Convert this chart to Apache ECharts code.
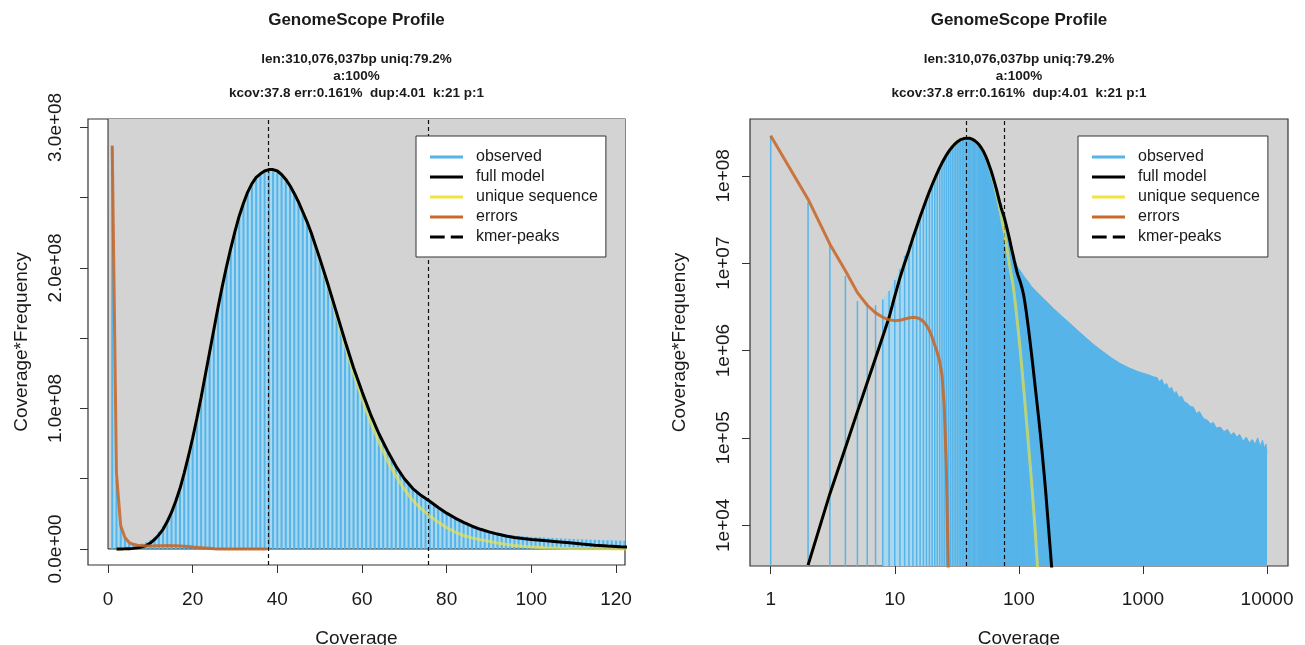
<!DOCTYPE html>
<html>
<head>
<meta charset="utf-8">
<title>GenomeScope Profile</title>
<script src="https://cdn.jsdelivr.net/npm/echarts@6/dist/echarts.min.js"></script>
<style>
  html, body { margin: 0; padding: 0; background: #fff; }
  #chart { width: 1305px; height: 645px; }
</style>
</head>
<body>
<div id="chart"></div>
<script>
// ---- data ----
const titleText = 'GenomeScope Profile'
const subtitleLines = ['len:310,076,037bp uniq:79.2%', 'a:100%', 'kcov:37.8 err:0.161%  dup:4.01  k:21 p:1']
const kmerPeaks = [37.8, 75.6]

// observed coverage*frequency, coverage 1..122
const observed = [
  2.87e8, 4.95e7, 1.58e7, 7.2e6, 3.7e6, 3.5e6, 3.3e6, 3.85e6, 4.8e6, 6.4e6,
  8.6e6, 1.22e7, 1.62e7, 2.15e7, 2.8e7, 3.6e7, 4.5e7, 5.6e7, 6.8e7, 8.1e7,
  9.5e7, 1.09e8, 1.25e8, 1.41e8, 1.56e8, 1.72e8, 1.87e8, 2.01e8, 2.14e8, 2.26e8,
  2.36e8, 2.45e8, 2.53e8, 2.59e8, 2.64e8, 2.67e8, 2.68e8, 2.69e8, 2.69e8, 2.68e8,
  2.65e8, 2.62e8, 2.575e8, 2.52e8, 2.46e8, 2.40e8, 2.33e8, 2.25e8, 2.16e8, 2.07e8,
  1.98e8, 1.88e8, 1.78e8, 1.68e8, 1.58e8, 1.48e8, 1.38e8, 1.29e8, 1.20e8, 1.12e8,
  1.04e8, 9.6e7, 8.9e7, 8.2e7, 7.6e7, 7.0e7, 6.45e7, 5.9e7, 5.45e7, 5.0e7,
  4.6e7, 4.3e7, 4.0e7, 3.75e7, 3.5e7, 3.3e7, 3.08e7, 2.88e7, 2.7e7, 2.52e7,
  2.36e7, 2.2e7, 2.06e7, 1.92e7, 1.8e7, 1.68e7, 1.57e7, 1.47e7, 1.38e7, 1.3e7,
  1.23e7, 1.16e7, 1.1e7, 1.05e7, 1.0e7, 9.6e6, 9.3e6, 9.0e6, 8.8e6, 8.6e6,
  8.4e6, 8.3e6, 8.1e6, 7.9e6, 7.8e6, 7.6e6, 7.5e6, 7.3e6, 7.2e6, 7.1e6,
  6.9e6, 6.8e6, 6.7e6, 6.6e6, 6.5e6, 6.4e6, 6.3e6, 6.2e6, 6.1e6, 6.0e6,
  5.9e6, 5.8e6
]

// high-coverage tail of the histogram (only visible on the log plot)
const tailCov = [125, 135, 148, 165, 190, 220, 259, 300, 353, 410, 481, 560, 656, 760, 895, 1000, 1100, 1217, 1300, 1350,
  1420, 1480, 1550, 1620, 1700, 1780, 1850, 1950, 2050, 2150, 2263, 2400, 2550, 2700, 2850, 3083, 3300, 3500, 3700, 3900,
  4200, 4500, 4800, 5100, 5400, 5727, 6000, 6400, 6800, 7200, 7600, 8000, 8400, 8800, 9200, 9500, 9800, 10000]
const tailObs = [5.5e6, 4.9e6, 4.3e6, 3.7e6, 3.03e6, 2.5e6, 2.04e6, 1.68e6, 1.37e6, 1.14e6, 9.6e5, 8.2e5, 7.1e5, 6.4e5, 5.8e5, 5.5e5, 5.3e5, 5.0e5, 4.9e5, 4.4e5,
  4.7e5, 4.0e5, 4.2e5, 3.6e5, 3.8e5, 3.2e5, 3.4e5, 2.9e5, 3.0e5, 2.6e5, 2.5e5, 2.3e5, 2.25e5, 1.9e5, 2.0e5, 1.66e5, 1.6e5, 1.45e5, 1.5e5, 1.3e5,
  1.33e5, 1.18e5, 1.25e5, 1.08e5, 1.15e5, 1.02e5, 1.1e5, 9.2e4, 1.02e5, 8.8e4, 9.6e4, 8.4e4, 1.0e5, 8.0e4, 9.4e4, 7.6e4, 8.5e4, 6.6e4]

// model curves
const curveCov = [2, 3, 4, 5, 6, 7, 8, 9, 10, 11, 12, 13, 14, 15, 16, 17, 18, 19, 20, 21, 22, 23, 24, 25, 26, 27, 28, 29, 30,
  31, 32, 33, 34, 35, 36, 37, 38, 39, 40, 41, 42, 43, 44, 45, 46, 47, 48, 49, 50,
  52, 54, 56, 58, 60, 62, 64, 66, 68, 70, 72, 74, 76, 78, 80, 82, 84, 86, 88, 90, 92, 94, 96, 98, 100,
  103, 106, 109, 112, 115, 118, 121, 125, 130, 135, 140, 145, 150, 155, 160, 165, 170, 175, 180, 185]
const fullModel = [3.5e3, 2.3e4, 7.7e4, 2.0e5, 4.3e5, 8.2e5, 1.45e6, 2.4e6, 4.2e6,
  6.8e6, 1.0e7, 1.4e7, 1.95e7, 2.6e7, 3.4e7, 4.3e7, 5.4e7, 6.6e7, 7.9e7,
  9.3e7, 1.08e8, 1.24e8, 1.40e8, 1.56e8, 1.72e8, 1.87e8, 2.01e8, 2.14e8, 2.26e8,
  2.37e8, 2.46e8, 2.54e8, 2.60e8, 2.645e8, 2.67e8, 2.69e8, 2.70e8, 2.70e8, 2.69e8,
  2.665e8, 2.63e8, 2.585e8, 2.53e8, 2.47e8, 2.40e8, 2.33e8, 2.25e8, 2.16e8, 2.07e8,
  1.88e8, 1.68e8, 1.48e8, 1.29e8, 1.12e8, 9.6e7, 8.2e7, 7.0e7, 5.9e7, 5.0e7,
  4.3e7, 3.8e7, 3.4e7, 2.95e7, 2.55e7, 2.2e7, 1.9e7, 1.62e7, 1.4e7, 1.22e7,
  1.06e7, 9.3e6, 8.2e6, 7.4e6, 6.8e6,
  6.0e6, 5.2e6, 4.4e6, 3.5e6, 2.7e6, 2.05e6, 1.55e6,
  1.05e6, 6.5e5, 4.0e5, 2.5e5, 1.6e5, 1.0e5, 6.2e4, 3.8e4, 2.3e4, 1.35e4, 8.0e3, 4.8e3, 2.9e3]
const uniqueSeq = [3.5e3, 2.3e4, 7.7e4, 2.0e5, 4.3e5, 8.2e5, 1.45e6, 2.4e6, 4.2e6,
  6.8e6, 1.0e7, 1.4e7, 1.95e7, 2.6e7, 3.4e7, 4.3e7, 5.4e7, 6.6e7, 7.9e7,
  9.3e7, 1.08e8, 1.24e8, 1.40e8, 1.56e8, 1.72e8, 1.87e8, 2.01e8, 2.14e8, 2.26e8,
  2.37e8, 2.46e8, 2.54e8, 2.60e8, 2.645e8, 2.67e8, 2.69e8, 2.70e8, 2.70e8, 2.69e8,
  2.665e8, 2.63e8, 2.585e8, 2.53e8, 2.47e8, 2.40e8, 2.33e8, 2.25e8, 2.155e8, 2.06e8,
  1.87e8, 1.66e8, 1.45e8, 1.25e8, 1.07e8, 9.05e7, 7.6e7, 6.3e7, 5.2e7, 4.25e7,
  3.45e7, 2.85e7, 2.35e7, 1.9e7, 1.52e7, 1.2e7, 9.6e6, 7.9e6, 6.6e6, 5.5e6,
  4.3e6, 3.3e6, 2.5e6, 1.9e6, 1.45e6,
  9.4e5, 6.1e5, 3.9e5, 2.5e5, 1.6e5, 1.05e5, 6.8e4,
  3.9e4, 1.9e4, 9.3e3, 4.1e3, 2.0e3, 9.0e2, 4.0e2, 1.8e2, 80, 35, 15, 7, 3]

const errCov = [1, 2, 3, 4, 5, 6, 7, 8, 9, 10, 11, 12, 13, 14, 15, 16, 17, 18, 19, 20, 21, 22, 23, 24, 25, 26, 27, 28, 30, 33, 36, 37.5]
const errVal = [2.87e8, 5.4e7, 1.65e7, 8.2e6, 4.6e6, 3.3e6, 2.7e6, 2.4e6, 2.25e6, 2.2e6,
  2.22e6, 2.3e6, 2.36e6, 2.4e6, 2.38e6, 2.3e6, 2.15e6, 1.95e6, 1.7e6, 1.42e6,
  1.15e6, 9.5e5, 7.5e5, 5.3e5, 2.4e5, 5.0e4, 3.0e3, 6.0e2, 1.0e2, 20, 5, 2]

// tick positions and labels
const linXTicks = [0, 20, 40, 60, 80, 100, 120]
const linYTicks = [0, 0.5e8, 1e8, 1.5e8, 2e8, 2.5e8, 3e8]
const linYLabelVals = [0, 1e8, 2e8, 3e8]
const linYLabels = ['0.0e+00', '1.0e+08', '2.0e+08', '3.0e+08']
const logXTicks = [1, 10, 100, 1000, 10000]
const logXLabels = ['1', '10', '100', '1000', '10000']
const logYTicks = [1e4, 1e5, 1e6, 1e7, 1e8]
const logYLabels = ['1e+04', '1e+05', '1e+06', '1e+07', '1e+08']

const legendNames = ['observed', 'full model', 'unique sequence', 'errors', 'kmer-peaks']

// ---- styling ----
const FONT = "'Liberation Sans', Arial, Helvetica, sans-serif"
const TXT = '#1a1a1a'
const BLUE = '#56B4E9'
const LIGHT_BLUE = '#a8d8ef'
const BG_GREY = '#d3d3d3'
const ERR_COLOR = 'rgba(200, 100, 35, 0.85)'
const UNIQUE_COLOR = 'rgba(240, 228, 66, 0.65)'

const pairs = (xs, ys) => xs.map((x, i) => [x, ys[i]])
const obsPairs = observed.map((v, i) => [i + 1, v])
const tailPairs = [obsPairs[obsPairs.length - 1]].concat(pairs(tailCov, tailObs))
const modelPairs = pairs(curveCov, fullModel)
const uniquePairs = pairs(curveCov, uniqueSeq)
const errPairs = pairs(errCov, errVal)
// R draws rect(0, 0, max(x)*1.1, max(y)*1.1) as plot background
const bgData = [[0, 0, Math.max(...tailCov) * 1.1, Math.max(...observed) * 1.1]]

const labelFrom = (vals, labels) => v => {
  const i = vals.findIndex(t => Math.abs(t - v) <= Math.abs(t) * 1e-6)
  return i >= 0 ? labels[i] : ''
}

const axisText = { fontFamily: FONT, fontSize: 19, color: TXT }

function bgRect(params, api, fill, stroke) {
  const p0 = api.coord([api.value(0), api.value(1)])
  const p1 = api.coord([api.value(2), api.value(3)])
  return {
    type: 'rect',
    shape: { x: p0[0], y: p1[1], width: p1[0] - p0[0], height: p0[1] - p1[1] },
    style: { fill: fill, stroke: stroke, lineWidth: stroke === 'none' ? 0 : 1 }
  }
}

function barsLinear(params, api) {
  const top = api.coord([api.value(0), api.value(1)])
  const base = api.coord([api.value(0), 0])
  return { type: 'line', shape: { x1: top[0], y1: base[1], x2: top[0], y2: top[1] }, style: { stroke: BLUE, lineWidth: 2 } }
}

function barsLog(params, api) {
  const top = api.coord([api.value(0), api.value(1)])
  const cs = params.coordSys
  return { type: 'line', shape: { x1: top[0], y1: cs.y + cs.height, x2: top[0], y2: top[1] }, style: { stroke: BLUE, lineWidth: 1.5 } }
}

function curves(axisIdx) {
  return [
    {
      name: 'unique sequence', type: 'line', xAxisIndex: axisIdx, yAxisIndex: axisIdx, data: uniquePairs,
      symbol: 'none', lineStyle: { color: UNIQUE_COLOR, width: 3 }, itemStyle: { color: UNIQUE_COLOR }, z: 5, silent: true
    },
    {
      name: 'full model', type: 'line', xAxisIndex: axisIdx, yAxisIndex: axisIdx, data: modelPairs,
      symbol: 'none', lineStyle: { color: '#000', width: 3 }, itemStyle: { color: '#000' }, z: 6, silent: true
    },
    {
      name: 'errors', type: 'line', xAxisIndex: axisIdx, yAxisIndex: axisIdx, data: errPairs,
      symbol: 'none', lineStyle: { color: ERR_COLOR, width: 3 }, itemStyle: { color: ERR_COLOR }, z: 7, silent: true
    },
    {
      name: 'kmer-peaks', type: 'line', xAxisIndex: axisIdx, yAxisIndex: axisIdx, data: [], z: 8, silent: true,
      itemStyle: { color: '#000' },
      markLine: {
        silent: true, symbol: ['none', 'none'], label: { show: false }, animation: false,
        lineStyle: { color: '#111', type: [4, 3], width: 1.2 },
        emphasis: { disabled: true },
        data: kmerPeaks.map(p => ({ xAxis: p }))
      }
    }
  ]
}

function legendAt(left) {
  return {
    left: left, top: 136, orient: 'vertical', z: 20,
    padding: [11, 8, 10, 14], itemGap: 0, itemWidth: 33, itemHeight: 3,
    backgroundColor: '#fff', borderColor: '#333', borderWidth: 1, borderRadius: 0,
    selectedMode: false, symbolKeepAspect: false,
    textStyle: { fontFamily: FONT, fontSize: 16, color: TXT, lineHeight: 20, padding: [0, 0, 0, 8] },
    data: [
      { name: legendNames[0], icon: 'rect', itemStyle: { color: BLUE, borderWidth: 0 } },
      { name: legendNames[1], icon: 'rect', itemStyle: { color: '#000', borderWidth: 0 } },
      { name: legendNames[2], icon: 'rect', itemStyle: { color: '#F0E442', borderWidth: 0 } },
      { name: legendNames[3], icon: 'rect', itemStyle: { color: '#C8692A', borderWidth: 0 } },
      { name: legendNames[4], icon: 'path://M0,0H12V3H0Z M17,0H27V3H17Z', itemStyle: { color: '#000', borderWidth: 0 } }
    ]
  }
}

function titleAt(left) {
  return {
    text: titleText, subtext: subtitleLines.join('\n'),
    left: left, top: 12, textAlign: 'center', padding: 0, itemGap: 22,
    textStyle: { fontFamily: FONT, fontSize: 17, fontWeight: 'bold', color: TXT },
    subtextStyle: { fontFamily: FONT, fontSize: 13.5, fontWeight: 'bold', color: TXT, lineHeight: 17 }
  }
}

const option = {
  animation: false,
  backgroundColor: '#fff',
  title: [titleAt(356.5), titleAt(1019)],
  legend: [legendAt(416), legendAt(1078)],
  grid: [
    { left: 88, top: 119, width: 537, height: 446, outerBoundsMode: 'none', containLabel: false,
      show: true, borderColor: '#333', borderWidth: 1.2, backgroundColor: 'transparent' },
    { left: 750, top: 119, width: 538, height: 447, outerBoundsMode: 'none', containLabel: false,
      show: true, borderColor: '#333', borderWidth: 1.2, backgroundColor: BG_GREY }
  ],
  xAxis: [
    {
      gridIndex: 0, type: 'value', min: -4.725, max: 122.13,
      axisLine: { show: false, onZero: false }, splitLine: { show: false },
      axisTick: { customValues: linXTicks, length: 8, lineStyle: { color: '#333' } },
      axisLabel: Object.assign({ customValues: linXTicks, margin: 25, formatter: labelFrom(linXTicks, linXTicks.map(String)) }, axisText),
      name: 'Coverage', nameLocation: 'middle', nameGap: 64, nameTextStyle: axisText
    },
    {
      gridIndex: 1, type: 'log', logBase: 10, min: 0.681, max: 14757,
      axisLine: { show: false, onZero: false }, splitLine: { show: false }, minorTick: { show: false },
      axisTick: { customValues: logXTicks, length: 8, lineStyle: { color: '#333' } },
      axisLabel: Object.assign({ customValues: logXTicks, margin: 24, formatter: labelFrom(logXTicks, logXLabels) }, axisText),
      name: 'Coverage', nameLocation: 'middle', nameGap: 63, nameTextStyle: axisText
    }
  ],
  yAxis: [
    {
      gridIndex: 0, type: 'value', min: -0.114e8, max: 3.06e8,
      axisLine: { show: false, onZero: false }, splitLine: { show: false },
      axisTick: { customValues: linYTicks, length: 8, lineStyle: { color: '#333' } },
      axisLabel: Object.assign({ customValues: linYLabelVals, rotate: 90, margin: 23, formatter: labelFrom(linYLabelVals, linYLabels) }, axisText),
      name: 'Coverage*Frequency', nameLocation: 'middle', nameGap: 57, nameTextStyle: axisText
    },
    {
      gridIndex: 1, type: 'log', logBase: 10, min: 3420, max: 4.47e8,
      axisLine: { show: false, onZero: false }, splitLine: { show: false }, minorTick: { show: false },
      axisTick: { customValues: logYTicks, length: 8, lineStyle: { color: '#333' } },
      axisLabel: Object.assign({ customValues: logYTicks, rotate: 90, margin: 17, formatter: labelFrom(logYTicks, logYLabels) }, axisText),
      name: 'Coverage*Frequency', nameLocation: 'middle', nameGap: 61, nameTextStyle: axisText
    }
  ],
  series: [
    // ---- left panel: linear ----
    {
      type: 'custom', xAxisIndex: 0, yAxisIndex: 0, data: bgData, clip: true, z: 1, silent: true,
      encode: { x: [0, 2], y: [1, 3] },
      renderItem: (p, api) => bgRect(p, api, BG_GREY, 'none')
    },
    {
      type: 'line', xAxisIndex: 0, yAxisIndex: 0, data: obsPairs, symbol: 'none', z: 2, silent: true,
      lineStyle: { width: 0 }, areaStyle: { color: LIGHT_BLUE, opacity: 1 }
    },
    {
      type: 'custom', xAxisIndex: 0, yAxisIndex: 0, data: bgData, clip: true, z: 3, silent: true,
      encode: { x: [0, 2], y: [1, 3] },
      renderItem: (p, api) => bgRect(p, api, 'none', '#222')
    },
    {
      name: 'observed', type: 'custom', xAxisIndex: 0, yAxisIndex: 0, data: obsPairs, clip: true, z: 4, silent: true,
      itemStyle: { color: BLUE }, renderItem: barsLinear
    },
    ...curves(0),

    // ---- right panel: log-log ----
    {
      type: 'line', xAxisIndex: 1, yAxisIndex: 1, data: obsPairs.slice(7), symbol: 'none', z: 2, silent: true,
      lineStyle: { width: 0 }, areaStyle: { color: LIGHT_BLUE, opacity: 1, origin: 'start' }
    },
    {
      name: 'observed', type: 'custom', xAxisIndex: 1, yAxisIndex: 1, data: obsPairs, clip: true, z: 4, silent: true,
      itemStyle: { color: BLUE }, renderItem: barsLog
    },
    {
      type: 'line', xAxisIndex: 1, yAxisIndex: 1, data: tailPairs, symbol: 'none', z: 4, silent: true,
      lineStyle: { color: BLUE, width: 1 }, areaStyle: { color: BLUE, opacity: 1, origin: 'start' }
    },
    ...curves(1)
  ]
}

const chart = echarts.init(document.getElementById('chart'))
chart.setOption(option)
</script>
</body>
</html>
